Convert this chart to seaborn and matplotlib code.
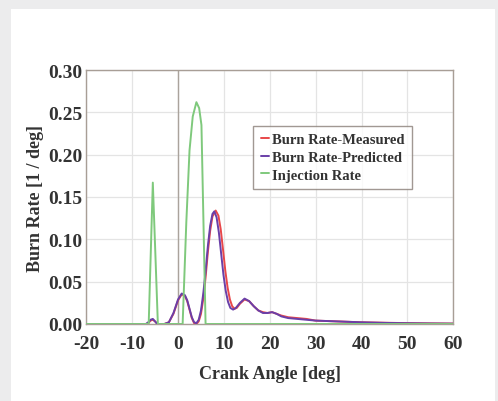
import matplotlib
matplotlib.use("Agg")
import matplotlib.pyplot as plt
import seaborn as sns
import pandas as pd
from matplotlib.patches import Rectangle

# ---- data ----
meas_x = [-20, -7, -6.5, -6, -5.5, -5, -4.5, -3, -2, -1, 0, 0.8, 1.5, 2, 2.5, 3, 3.5, 4,
          4.5, 5, 5.5, 6, 6.5, 7, 7.5, 8.2, 8.8, 9.3, 9.8, 10.3, 10.8, 11.3, 11.8, 12.3,
          12.8, 13.5, 14.5, 15.5, 16.5, 17.5, 18.5, 19.5, 20.5, 21.5, 22.5, 24, 26, 28,
          30, 35, 40, 45, 50, 55, 60]
meas_y = [0, 0, 0.001, 0.004, 0.005, 0.003, 0.0, 0.0, 0.002, 0.012, 0.028, 0.035, 0.033,
          0.027, 0.017, 0.007, 0.001, 0.0, 0.003, 0.012, 0.03, 0.055, 0.085, 0.11, 0.127,
          0.134, 0.128, 0.112, 0.088, 0.063, 0.043, 0.029, 0.021, 0.018, 0.019, 0.024,
          0.029, 0.027, 0.021, 0.016, 0.014, 0.013, 0.014, 0.012, 0.01, 0.008, 0.007,
          0.006, 0.004, 0.003, 0.002, 0.0015, 0.001, 0.0007, 0.0005]

pred_x = [-20, -7, -6.5, -6, -5.5, -5, -4.5, -3, -2, -1, 0, 0.8, 1.5, 2, 2.5, 3, 3.5, 4,
          4.5, 5, 5.5, 6, 6.5, 7, 7.5, 7.9, 8.4, 8.9, 9.4, 9.9, 10.4, 10.9, 11.4, 12,
          12.6, 13.5, 14.5, 15.5, 16.5, 17.5, 18.5, 19.5, 20.5, 21.5, 22.5, 24, 26, 28,
          30, 35, 40, 45, 50, 55, 60]
pred_y = [0, 0, 0.002, 0.005, 0.006, 0.003, 0.0, 0.0, 0.002, 0.013, 0.029, 0.036, 0.034,
          0.028, 0.018, 0.008, 0.002, 0.001, 0.005, 0.016, 0.036, 0.062, 0.092, 0.116,
          0.13, 0.133, 0.126, 0.108, 0.083, 0.058, 0.039, 0.026, 0.019, 0.017, 0.019,
          0.025, 0.03, 0.027, 0.021, 0.016, 0.013, 0.013, 0.014, 0.012, 0.009, 0.007,
          0.006, 0.005, 0.004, 0.003, 0.002, 0.0013, 0.0009, 0.0006, 0.0004]

inj_x = [-20, -6.4, -5.5, -4.4, 1.0, 1.8, 2.5, 3.2, 4.0, 4.6, 5.1, 6.0, 60]
inj_y = [0, 0, 0.167, 0, 0, 0.12, 0.205, 0.245, 0.262, 0.255, 0.235, 0, 0]

labels = ["Burn Rate-Measured", "Burn Rate-Predicted", "Injection Rate"]
colors = ["#e8474a", "#6a3fa8", "#7fc97c"]
x_ticks = [-20, -10, 0, 10, 20, 30, 40, 50, 60]
y_ticks = [0.00, 0.05, 0.10, 0.15, 0.20, 0.25, 0.30]

sns.set_style("white")
plt.rcParams["font.family"] = ["Liberation Serif", "DejaVu Serif"]

TXT = "#333333"

fig = plt.figure(figsize=(4.98, 4.02), dpi=100)
fig.patch.set_facecolor("#ececed")
bg = Rectangle((11 / 498, 0), 484 / 498, 392 / 402, transform=fig.transFigure,
               facecolor="white", edgecolor="none", zorder=-10)
fig.add_artist(bg)

ax = fig.add_axes([86.3 / 498, 77 / 402, 367 / 498, 254 / 402])
ax.set_zorder(1)
ax.set_facecolor("white")

series = [(meas_x, meas_y), (pred_x, pred_y), (inj_x, inj_y)]
for (xs, ys), lab, col in zip(series, labels, colors):
    df = pd.DataFrame({"x": xs, "y": ys})
    sns.lineplot(data=df, x="x", y="y", ax=ax, color=col, label=lab,
                 sort=False, estimator=None, linewidth=1.4, zorder=3)

ax.set_xlim(-20, 60)
ax.set_ylim(0, 0.30)
ax.set_xticks(x_ticks)
ax.set_xticklabels([str(t) for t in x_ticks])
ax.set_yticks(y_ticks)
ax.set_yticklabels([f"{t:.2f}" for t in y_ticks])
ax.grid(True, color="#e4e4e4", linewidth=0.9)
ax.axvline(0, color="#aaa39c", linewidth=1.0, zorder=2)
for s in ax.spines.values():
    s.set_color("#a89e96")
    s.set_linewidth(1.0)
ax.tick_params(axis="x", length=0, labelsize=14, colors=TXT, pad=8)
ax.tick_params(axis="y", length=0, labelsize=14, colors=TXT, pad=3)
for lab in ax.get_xticklabels() + ax.get_yticklabels():
    lab.set_fontweight("bold")

ax.set_xlabel("Crank Angle [deg]", fontsize=13, fontweight="bold", color=TXT, labelpad=9)
ax.set_ylabel("Burn Rate [1 / deg]", fontsize=13, fontweight="bold", color=TXT, labelpad=3)

leg = ax.legend(loc="upper left", bbox_to_anchor=(0.455, 0.78),
                prop={"size": 10.5, "weight": "bold"},
                frameon=True, fancybox=False, handlelength=0.6, handletextpad=0.2,
                borderpad=0.5, labelspacing=0.3, borderaxespad=0)
leg.get_frame().set_edgecolor("#8a7f78")
leg.get_frame().set_linewidth(1.0)
for t in leg.get_texts():
    t.set_color(TXT)

fig.savefig("out.png", dpi=100, facecolor=fig.get_facecolor())
